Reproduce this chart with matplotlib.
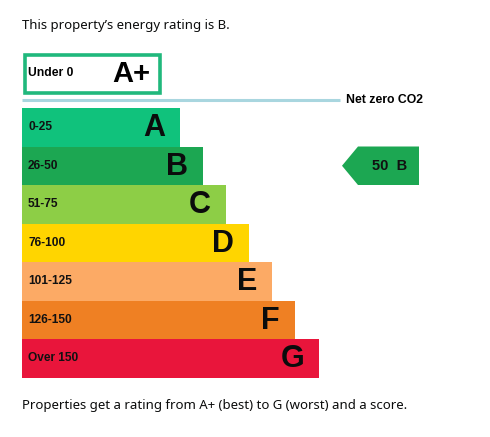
import matplotlib
matplotlib.use("Agg")
import matplotlib.pyplot as plt
from matplotlib.patches import Rectangle, Polygon

# band data
bands = ["A", "B", "C", "D", "E", "F", "G"]
ranges = ["0-25", "26-50", "51-75", "76-100", "101-125", "126-150", "Over 150"]
bar_ends = [180, 203, 226, 249, 272, 295, 319]
colors = ["#10c27c", "#1ca752", "#8dce46", "#ffd500", "#fcaa65", "#ef8023", "#e9153b"]
current_score = 50
current_band = "B"

W, H = 490, 437
fig = plt.figure(figsize=(W / 100, H / 100), dpi=100)
ax = fig.add_axes([0, 0, 1, 1])
ax.set_xlim(0, W)
ax.set_ylim(H, 0)
ax.axis("off")

body = ["Noto Sans", "DejaVu Sans"]
label = ["Liberation Sans", "DejaVu Sans"]

ax.text(22, 25, "This property\u2019s energy rating is B.", fontsize=9.5,
        family=body, color="#0b0c0c", va="center", ha="left")

# A+ box
ax.add_patch(Rectangle((24.5, 54.5), 135, 38, fill=False, ec="#20b87c", lw=2.6))
ax.text(28, 73, "Under 0", fontsize=8.7, fontweight="bold", family=label, va="center")
ax.text(150, 74, "A+", fontsize=21, fontweight="bold", family=label, va="center", ha="right")

# net zero line
ax.plot([22, 340], [100, 100], color="#a9d6df", lw=2.2, solid_capstyle="butt")
ax.text(346, 100, "Net zero CO2", fontsize=8.8, fontweight="bold", family=label, va="center")

top = 108
h = 38.5
for i, (b, r, e, c) in enumerate(zip(bands, ranges, bar_ends, colors)):
    y0 = top + i * h
    ax.add_patch(Rectangle((22, y0), e - 22, h, color=c, lw=0))
    ax.text(28, y0 + h / 2, r, fontsize=8.6, fontweight="bold", family=label,
            va="center", color="#111111")
    ax.text(e - 15, y0 + h / 2 + 1, b, fontsize=22, fontweight="bold", family=label,
            va="center", ha="right", color="#0b0c0c")

# current rating arrow
ci = bands.index(current_band)
y0 = top + ci * h
y1 = y0 + h
arrow = Polygon([(342, y0 + h / 2), (358, y0), (419, y0), (419, y1), (358, y1)],
                closed=True, color=colors[ci], lw=0)
ax.add_patch(arrow)
ax.text(389.5, y0 + h / 2, f"{current_score}  {current_band}", fontsize=10.5,
        fontweight="bold", family=label, va="center", ha="center", color="#111111")

ax.text(22, 405, "Properties get a rating from A+ (best) to G (worst) and a score.",
        fontsize=9.5, family=body, color="#0b0c0c", va="center", ha="left")

fig.savefig("out.png", dpi=100, facecolor="white")
